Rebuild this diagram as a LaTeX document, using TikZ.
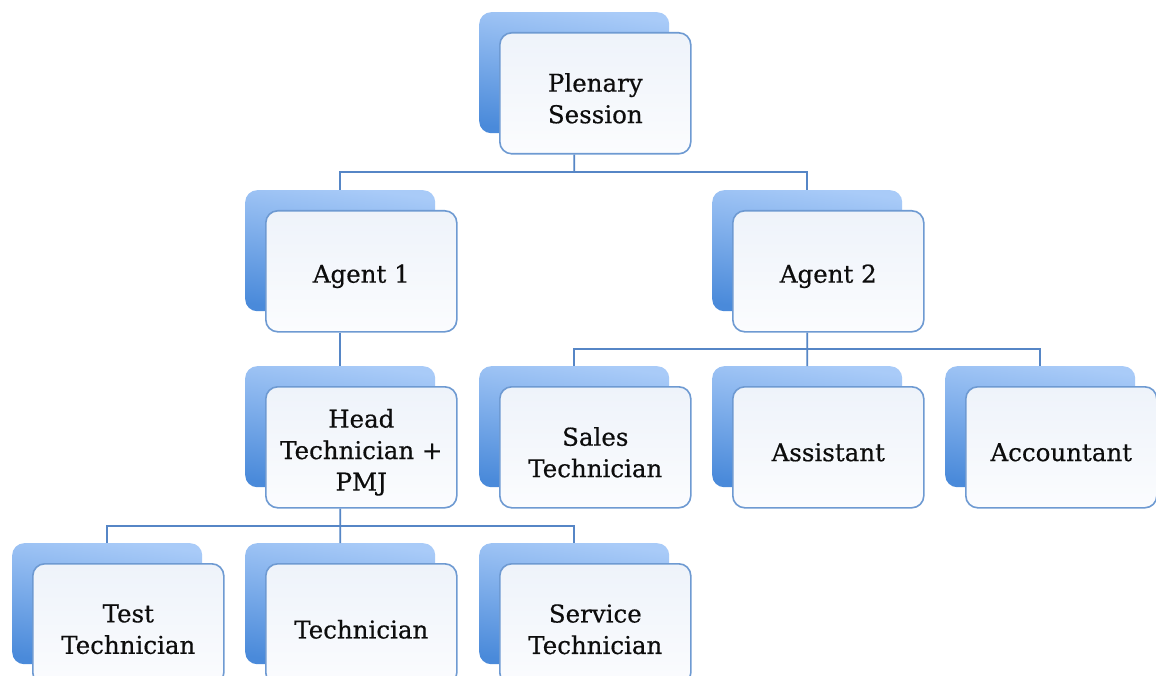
\documentclass[tikz,border=0pt]{standalone}
\usepackage{fontspec}
\setmainfont{DejaVu Serif}
\newfontfamily\lblfont{DejaVu Serif}[FakeBold=0.5]
\usetikzlibrary{calc}
\definecolor{backlight}{HTML}{A9CBF8}
\definecolor{backdark}{HTML}{4A8ADA}
\definecolor{frontedge}{HTML}{6E9AD2}
\definecolor{fronttop}{HTML}{EEF3FA}
\definecolor{frontbot}{HTML}{FBFCFE}
\definecolor{linecol}{HTML}{5686C6}
\tikzset{
  backbox/.style={shade, top color=backlight, bottom color=backdark, shading angle=-8,
    rounded corners=12pt, minimum width=190pt, minimum height=121pt, inner sep=0pt, anchor=north west},
  frontbox/.style={shade, top color=fronttop, bottom color=frontbot, draw=frontedge, line width=1.6pt,
    rounded corners=12pt, minimum width=191pt, minimum height=121pt, inner sep=0pt, anchor=north west},
  lbl/.style={align=center, inner sep=0pt, text=black!95, font=\lblfont\fontsize{24.5}{31.5}\selectfont},
  conn/.style={draw=linecol, line width=1.7pt}
}
\begin{document}
\begin{tikzpicture}[x=1pt, y=-1pt]
\useasboundingbox (0,0) rectangle (1156,676);
\fill[white] (0,0) rectangle (1156,676);
% units
\foreach \n/\x/\y in {p/479/12, a1/245/190, a2/712/190, h/245/366, s/479/366, as/712/366, ac/945/366, t/12/543, tc/245/543, sv/479/543}{
  \node[backbox] (\n b) at (\x,\y) {};
  \node[frontbox] (\n) at (\x+20,\y+20) {};
}
% labels
\node[lbl] (pt)  at ([yshift=-5pt]p.center)  {Plenary\\Session};
\node[lbl] (a1t) at ([yshift=-5pt]a1.center) {Agent 1};
\node[lbl] (a2t) at ([yshift=-5pt]a2.center) {Agent 2};
\node[lbl] (ht)  at ([yshift=-5pt]h.center)  {Head\\Technician +\\PMJ};
\node[lbl] (st)  at ([yshift=-5pt]s.center)  {Sales\\Technician};
\node[lbl] (ast) at ([yshift=-5pt]as.center) {Assistant};
\node[lbl] (act) at ([yshift=-5pt]ac.center) {Accountant};
\node[lbl] (tt)  at ([yshift=-5pt]t.center)  {Test\\Technician};
\node[lbl] (tct) at ([yshift=-5pt]tc.center) {Technician};
\node[lbl] (svt) at ([yshift=-5pt]sv.center) {Service\\Technician};
% junctions
\coordinate (j1) at ($(pb.south |- p.south)!0.5!(pb.south |- a1b.north)$);
\coordinate (j2) at ($(a2b.south |- a2.south)!0.5!(a2b.south |- asb.north)$);
\coordinate (j3) at ($(hb.south |- h.south)!0.5!(hb.south |- tcb.north)$);
% connectors
\draw[conn] (pb.south |- p.south) -- (j1);
\draw[conn] (a1b.north) |- (j1) -| (a2b.north);
\draw[conn] (a1b.south |- a1.south) -- (hb.north);
\draw[conn] (a2b.south |- a2.south) -- (j2);
\draw[conn] (sb.north) |- (j2) -| (acb.north);
\draw[conn] (j2) -- (asb.north);
\draw[conn] (hb.south |- h.south) -- (j3);
\draw[conn] (tb.north) |- (j3) -| (svb.north);
\draw[conn] (j3) -- (tcb.north);
\end{tikzpicture}
\end{document}
